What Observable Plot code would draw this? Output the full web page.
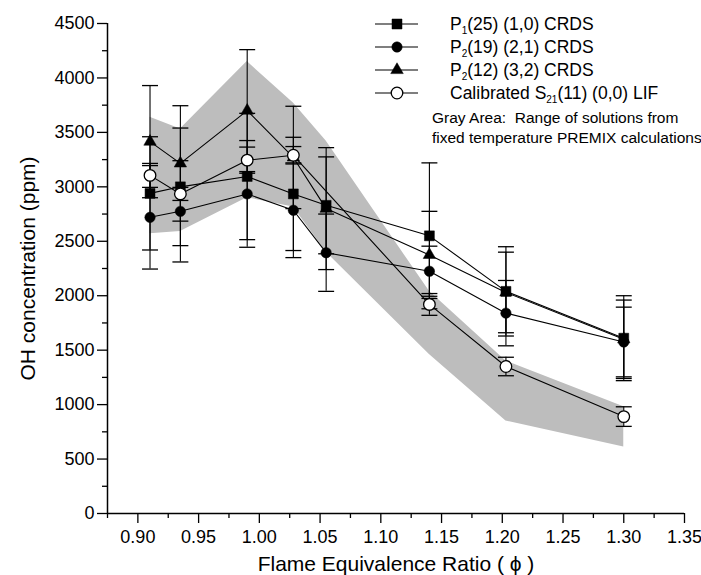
<!DOCTYPE html>
<html>
<head>
<meta charset="utf-8">
<script src="https://cdn.jsdelivr.net/npm/d3@7"></script>
<script src="https://cdn.jsdelivr.net/npm/@observablehq/plot@0.6"></script>
<style>
  body { margin: 0; background: #fff; }
  #chart { width: 701px; height: 575px; position: relative; }
</style>
</head>
<body>
<div id="chart"></div>
<script>
// ---- data ----
const phi = [0.910, 0.935, 0.990, 1.028, 1.055, 1.140, 1.203, 1.300];
const p1_25 = [2940, 3000, 3095, 2935, 2830, 2550, 2040, 1610];
const p1_25Err = [520, 540, 580, 520, 445, 670, 410, 390];
const p2_19 = [2720, 2775, 2935, 2785, 2395, 2225, 1840, 1575];
const p2_19Err = [475, 465, 490, 435, 355, 230, 300, 320];
const p2_12 = [3415, 3215, 3700, 3270, 2800, 2375, 2030, 1600];
const p2_12Err = [515, 530, 560, 470, 560, 400, 370, 360];
const lifPhi = [0.910, 0.935, 0.990, 1.028, 1.140, 1.203, 1.300];
const lif = [3105, 2935, 3245, 3290, 1920, 1350, 890];
const lifErr = [110, 60, 120, 80, 100, 85, 90];
const bandLow = [2570, 2590, 2900, 2815, 2400, 1460, 850, 610];
const bandHigh = [3640, 3530, 4150, 3770, 3420, 2040, 1400, 980];
const xTicks = [0.90, 0.95, 1.00, 1.05, 1.10, 1.15, 1.20, 1.25, 1.30, 1.35];
const xMinor = [0.875, 0.925, 0.975, 1.025, 1.075, 1.125, 1.175, 1.225, 1.275, 1.325];
const yTicks = [0, 500, 1000, 1500, 2000, 2500, 3000, 3500, 4000, 4500];
const yMinor = [250, 750, 1250, 1750, 2250, 2750, 3250, 3750, 4250];
const legendLabels = [
  ["P", "1", "(25) (1,0) CRDS"],
  ["P", "2", "(19) (2,1) CRDS"],
  ["P", "2", "(12) (3,2) CRDS"],
  ["Calibrated S", "21", "(11) (0,0) LIF"]
];
const noteLines = ["Gray Area:  Range of solutions from", "fixed temperature PREMIX calculations"];
const xLabel = "Flame Equivalence Ratio ( \u03D5 )";
const yLabel = "OH concentration (ppm)";

// ---- build tables ----
const rows = (xs, ys, es) => xs.map((x, i) => ({x, y: ys[i], lo: ys[i] - es[i], hi: ys[i] + es[i]}));
const series = [
  {data: rows(phi, p1_25, p1_25Err), symbol: "square", r: 5.6, fill: "black"},
  {data: rows(phi, p2_19, p2_19Err), symbol: "circle", r: 5.2, fill: "black"},
  {data: rows(phi, p2_12, p2_12Err), symbol: "triangle", r: 4.6, fill: "black"},
  {data: rows(lifPhi, lif, lifErr), symbol: "circle", r: 5.8, fill: "white"}
];
const band = phi.map((x, i) => ({x, lo: bandLow[i], hi: bandHigh[i]}));

const FONT = "'Liberation Sans', Arial, sans-serif";
const cap = {draw(ctx, size) { const w = Math.sqrt(size); ctx.moveTo(-w / 2, 0); ctx.lineTo(w / 2, 0); }};

const marks = [
  Plot.areaY(band, {x: "x", y1: "lo", y2: "hi", fill: "#bdbdbd"}),
  ...series.map(s => Plot.line(s.data, {x: "x", y: "y", stroke: "black", strokeWidth: 1.1})),
  ...series.map(s => Plot.ruleX(s.data, {x: "x", y1: "lo", y2: "hi", stroke: "black", strokeWidth: 1.1})),
  ...series.map(s => Plot.dot(s.data, {x: "x", y: "lo", symbol: cap, r: 9, stroke: "black", strokeWidth: 1.3, fill: "none"})),
  ...series.map(s => Plot.dot(s.data, {x: "x", y: "hi", symbol: cap, r: 9, stroke: "black", strokeWidth: 1.3, fill: "none"})),
  ...series.map(s => Plot.dot(s.data, {x: "x", y: "y", symbol: s.symbol, r: s.r, fill: s.fill, stroke: "black", strokeWidth: s.fill === "white" ? 1.3 : 0.5})),
  Plot.ruleY([0], {stroke: "black", strokeWidth: 1.5}),
  Plot.ruleX([0.875], {stroke: "black", strokeWidth: 1.5}),
  Plot.axisX({ticks: xTicks, tickSize: 10, tickPadding: 7, tickFormat: d3.format(".2f"), fontSize: 18, label: null, strokeWidth: 1.3}),
  Plot.axisX({ticks: xMinor, tickSize: 5, tickFormat: () => "", label: null, strokeWidth: 1.3}),
  Plot.axisY({ticks: yTicks, tickSize: 10, tickPadding: 3, tickFormat: d3.format("d"), fontSize: 18, label: null, strokeWidth: 1.3}),
  Plot.axisY({ticks: yMinor, tickSize: 5, tickFormat: () => "", label: null, strokeWidth: 1.3}),
  Plot.text([xLabel], {frameAnchor: "bottom", textAnchor: "middle", dy: 57, fontSize: 21, fill: "black"}),
  Plot.text([yLabel], {frameAnchor: "left", textAnchor: "middle", lineAnchor: "middle", dx: -79, rotate: -90, fontSize: 21, fill: "black"})
];

const chart = Plot.plot({
  width: 701,
  height: 575,
  marginLeft: 107,
  marginRight: 17,
  marginTop: 23,
  marginBottom: 62,
  x: {domain: [0.875, 1.35], axis: null},
  y: {domain: [0, 4500], axis: null},
  style: {fontFamily: FONT, fontSize: "18px", color: "black", background: "white", overflow: "visible"},
  marks
});
document.getElementById("chart").appendChild(chart);

// ---- legend (inside the plot, upper right) ----
const svg = d3.select(chart);
const lg = svg.append("g").attr("font-family", FONT).attr("fill", "black").attr("text-anchor", "start");
const rowY = [24, 47, 70, 93];
const symTypes = [d3.symbolSquare, d3.symbolCircle, d3.symbolTriangle, d3.symbolCircle];
const symSizes = [100, 85, 68, 105];
legendLabels.forEach((lab, i) => {
  const y = rowY[i];
  lg.append("line").attr("x1", 375).attr("x2", 418).attr("y1", y).attr("y2", y)
    .attr("stroke", "black").attr("stroke-width", 1.1);
  const s = series[i];
  lg.append("path").attr("d", d3.symbol(symTypes[i], symSizes[i])())
    .attr("transform", `translate(397,${y})`)
    .attr("fill", s.fill).attr("stroke", "black").attr("stroke-width", s.fill === "white" ? 1.3 : 0.5);
  const t = lg.append("text").attr("x", 450).attr("y", y).attr("dy", "0.35em").attr("font-size", 17.5);
  t.append("tspan").text(lab[0]);
  t.append("tspan").attr("dy", 4).attr("font-size", 10).text(lab[1]);
  t.append("tspan").attr("dy", -4).text(lab[2]);
});
noteLines.forEach((txt, i) => {
  lg.append("text").attr("x", 432).attr("y", 118 + i * 20).attr("dy", "0.35em")
    .attr("font-size", 15.5).text(txt);
});
</script>
</body>
</html>
